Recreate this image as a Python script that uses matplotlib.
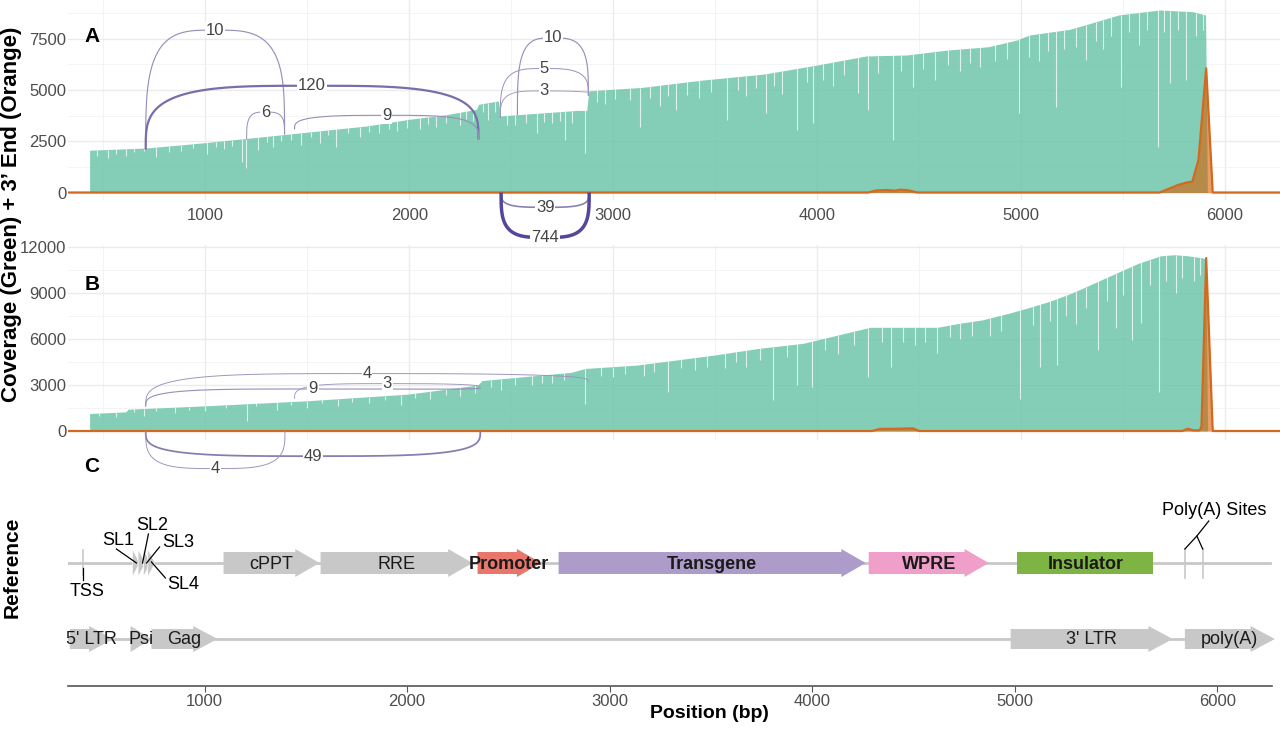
import numpy as np
import matplotlib
matplotlib.use('Agg')
import matplotlib.pyplot as plt
from matplotlib.patches import Polygon

plt.rcParams['font.family'] = ['Liberation Sans', 'DejaVu Sans']

# ---- panel A: coverage envelope (bp, depth) ----
covA_pos = [432, 712, 991, 1393, 1790, 1995, 2187, 2329, 2340, 2437, 2446, 2824, 2870, 2880, 3140,
            3440, 3740, 4000, 4240, 4440, 4640, 4840, 4980, 5040, 5240, 5340, 5480, 5680, 5840, 5905, 5914]
covA_val = [2060, 2170, 2420, 2830, 3240, 3560, 3800, 4050, 4300, 4460, 3730, 4000, 4000, 4950, 5120,
            5480, 5770, 6210, 6650, 6700, 6940, 7100, 7430, 7670, 7950, 8240, 8650, 8890, 8810, 8650, 0]
# dips in the coverage (bp, depth at bottom of dip)
dipA_pos = [520, 610, 760, 880, 1010, 1090, 1180, 1200, 1260, 1330, 1470, 1560, 1640, 1760, 1850, 1940,
            2050, 2130, 2250, 2310, 2388, 2520, 2628, 2700, 2765, 2863, 2960, 3130, 3230, 3310, 3420, 3560,
            3650, 3750, 3830, 3900, 3980, 4080, 4200, 4250, 4370, 4470, 4580, 4700, 4800, 4990, 5090, 5170,
            5320, 5400, 5490, 5580, 5670, 5730, 5810, 5860,
            470, 560, 650, 700, 820, 940, 1050, 1130, 1300, 1370, 1420, 1520, 1600, 1700, 1800, 1900,
            1990, 2090, 2180, 2280, 2360, 2420, 2480, 2570, 2660, 2740, 2800, 2920, 3010, 3080, 3180, 3270,
            3360, 3480, 3610, 3700, 3790, 3950, 4030, 4130, 4300, 4410, 4520, 4640, 4750, 4870, 4930, 5040,
            5130, 5210, 5270, 5370, 5440, 5530, 5620, 5700, 5770, 5890]
dipA_val = [1700, 1800, 1750, 2000, 1900, 2100, 1500, 1200, 2050, 2200, 2300, 2400, 2200, 2700, 2900, 3000,
            3100, 3200, 3300, 3500, 3540, 3300, 2890, 3400, 2560, 1915, 4300, 3200, 4200, 4020, 4600, 3530,
            4700, 3860, 4800, 3050, 3370, 5200, 4830, 4020, 2560, 5160, 5480, 5900, 6100, 3860, 6400, 4180,
            6460, 7000, 5160, 7200, 2230, 5320, 5480, 7600,
            1800, 1900, 1950, 2000, 1950, 2150, 2200, 2250, 2450, 2500, 2550, 2700, 2800, 2900, 2950, 3100,
            3150, 3350, 3400, 3600, 3900, 3900, 3300, 3400, 3450, 3500, 3400, 4400, 4550, 4500, 4600, 4700,
            4750, 4900, 5000, 5100, 5200, 5400, 5500, 5700, 5800, 5900, 6000, 6200, 6300, 6400, 6500, 6600,
            6900, 7000, 7100, 7400, 7600, 7800, 7900, 7800, 7900, 7900]
# 3' end signal (orange)
endA_pos = [326, 4250, 4290, 4340, 4380, 4410, 4450, 4490, 5680, 5770, 5810, 5840, 5870, 5908, 5940, 6270]
endA_val = [0, 0, 100, 120, 90, 140, 100, 0, 0, 365, 480, 530, 1580, 6050, 0, 0]
# splice junctions
arcA_start = [707, 707, 1202, 1437, 2530, 2446, 2446, 2450, 2450]
arcA_end = [1388, 2339, 1388, 2339, 2878, 2878, 2878, 2882, 2882]
arcA_y1 = [2090, 2090, 2580, 3070, 3770, 3640, 3640, 0, 0]
arcA_y2 = [2830, 2580, 2830, 2580, 4700, 4700, 4850, 0, 0]
arcA_top = [7910, 5200, 3920, 3760, 7530, 6040, 4950, -720, -2190]
arcA_count = [10, 120, 6, 9, 10, 5, 3, 39, 744]

# ---- panel B ----
covB_pos = [432, 610, 620, 996, 1496, 1996, 2336, 2356, 2795, 2862, 3117, 3493, 3713, 3932, 4150, 4260,
            4590, 4700, 4810, 4940, 5028, 5138, 5247, 5357, 5467, 5577, 5686, 5752, 5818, 5895, 5906, 5915]
covB_val = [1140, 1250, 1420, 1640, 1970, 2410, 3000, 3290, 3830, 4080, 4300, 4950, 5390, 5720, 6415, 6765,
            6765, 7030, 7250, 7680, 8010, 8450, 8990, 9640, 10300, 10950, 11430, 11500, 11430, 11280, 11200, 0]
dipB_pos = [560, 700, 850, 1000, 1205, 1350, 1500, 1650, 1800, 1960, 2100, 2250, 2450, 2600, 2700, 2862,
            3000, 3150, 3270, 3400, 3550, 3650, 3783, 3900, 3976, 4100, 4250, 4364, 4480, 4590, 4700, 4850,
            4995, 5094, 5178, 5270, 5379, 5467, 5544, 5588, 5675, 5760, 5850,
            480, 650, 760, 920, 1100, 1250, 1420, 1570, 1720, 1880, 2030, 2180, 2320, 2400, 2520, 2650,
            2760, 2940, 3060, 3200, 3330, 3460, 3600, 3720, 3850, 4040, 4180, 4320, 4420, 4530, 4650, 4760,
            4900, 5060, 5140, 5220, 5320, 5420, 5500, 5630, 5710, 5790, 5880]
dipB_val = [900, 1000, 1200, 1300, 650, 1400, 1500, 1600, 1800, 1700, 2100, 2300, 2700, 3000, 3100, 1790,
            3500, 3600, 2550, 4000, 4100, 4200, 2050, 2990, 2880, 5000, 3530, 4190, 5600, 5060, 6000, 6200,
            2120, 4190, 4300, 7000, 5280, 6700, 5940, 7030, 2550, 9000, 9800,
            1000, 1250, 1300, 1400, 1500, 1600, 1700, 1800, 1900, 2000, 2150, 2350, 2500, 2900, 3000, 3150,
            3300, 3600, 3700, 3850, 4100, 4200, 4500, 4600, 4800, 5300, 5600, 5800, 5800, 5800, 6100, 6200,
            6500, 6900, 7200, 7500, 8000, 8500, 8900, 9500, 9800, 10000, 10200]
endB_pos = [326, 4270, 4305, 4400, 4470, 4500, 5790, 5818, 5845, 5875, 5885, 5908, 5940, 6270]
endB_val = [0, 0, 130, 150, 170, 0, 0, 150, 40, 40, 300, 11280, 0, 0]
arcB_start = [707, 707, 1437, 707, 707]
arcB_end = [2878, 2348, 2348, 2348, 1390]
arcB_y1 = [1600, 1600, 2100, 0, 0]
arcB_y2 = [3180, 2800, 2800, 0, 0]
arcB_top = [3745, 2740, 3090, -1640, -2450]
arcB_count = [4, 9, 3, 49, 4]

# ---- panel C: reference annotation ----
feat_names = ['cPPT', 'RRE', 'Promoter', 'Transgene', 'WPRE', 'Insulator']
feat_start = [1094, 1573, 2348, 2748, 4279, 5013]
feat_end = [1568, 2323, 2662, 4264, 4872, 5684]
feat_color = ['#c8c8c8', '#c8c8c8', '#e8766b', '#ad9bca', '#ef9fc9', '#7db443']
feat_bold = [False, False, True, True, True, True]
feat_arrow = [True, True, True, True, True, False]

sl_names = ['SL1', 'SL2', 'SL3', 'SL4']
sl_start = [644, 672, 698, 720]
sl_end = [680, 708, 734, 756]

bb_names = ["5' LTR", 'Psi', 'Gag', "3' LTR", 'poly(A)']
bb_start = [335, 635, 738, 4980, 5840]
bb_end = [550, 738, 1064, 5780, 6284]

tss_pos = 398
polya_sites = [5840, 5928]

XLIM = (326, 6270)
W, H = 1280, 730
GREEN = '#66c2a5'
ORANGE = '#d2691e'
GRID = '#ebebeb'
TXT = '#4d4d4d'


def arc_xy(x1, x2, y1, y2, top, n=3.5):
    t = np.linspace(np.pi, 0, 300)
    c, s = np.cos(t), np.sin(t)
    u = np.sign(c) * np.abs(c) ** (2 / n)
    v = np.abs(s) ** (2 / n)
    base = y1 + (y2 - y1) * (u + 1) / 2
    return (x1 + x2) / 2 + (x2 - x1) / 2 * u, base + (top - base) * v


def draw_arcs(ax, starts, ends, y1s, y2s, tops, counts):
    light = np.array([0.62, 0.60, 0.75])
    dark = np.array([0.33, 0.28, 0.60])
    for x1, x2, a, b, top, cnt in zip(starts, ends, y1s, y2s, tops, counts):
        f = (np.log(cnt) / np.log(744)) ** 2
        xs, ys = arc_xy(x1, x2, a, b, top)
        ax.plot(xs, ys, color=light + (dark - light) * f, lw=0.6 + 1.9 * f,
                zorder=5, clip_on=False, solid_capstyle='butt')
        ax.text((x1 + x2) / 2, top, str(cnt), ha='center', va='center', fontsize=12,
                color='#444444', zorder=6,
                bbox=dict(boxstyle='square,pad=0.05', fc='white', ec='none'))


def coverage_panel(ax, cpos, cval, dpos, dval, epos, evals):
    ax.fill_between(cpos, 0, cval, color=GREEN, alpha=0.8, lw=0, zorder=2)
    env = np.interp(dpos, cpos, cval)
    ax.vlines(dpos, dval, env, color='white', lw=0.8, alpha=0.75, zorder=2.5)
    ax.fill_between(epos, 0, evals, color='#d95f02', alpha=0.6, lw=0, zorder=3)
    ax.plot(epos, evals, color=ORANGE, lw=1.6, zorder=4)
    ax.set_xlim(*XLIM)
    ax.set_xticks([1000, 2000, 3000, 4000, 5000, 6000])
    ax.set_xticks(np.arange(500, 6300, 1000), minor=True)
    ax.grid(which='major', color=GRID, lw=1.0)
    ax.grid(which='minor', color='#f2f2f2', lw=0.6)
    ax.set_axisbelow(True)
    for sp in ax.spines.values():
        sp.set_visible(False)
    ax.tick_params(which='both', length=0, labelsize=12, labelcolor=TXT)
    ax.tick_params(axis='y', pad=1)


fig = plt.figure(figsize=(W / 100, H / 100), dpi=100)


def box(x0, y0, x1, y1):
    return [x0 / W, 1 - y1 / H, (x1 - x0) / W, (y1 - y0) / H]


axA = fig.add_axes(box(68, 0, 1280, 200))
coverage_panel(axA, covA_pos, covA_val, dipA_pos, dipA_val, endA_pos, endA_val)
axA.set_ylim(-365, 9377)
axA.set_yticks([0, 2500, 5000, 7500])
axA.set_yticks([1250, 3750, 6250, 8750], minor=True)
axA.tick_params(axis='x', pad=6)
draw_arcs(axA, arcA_start, arcA_end, arcA_y1, arcA_y2, arcA_top, arcA_count)

axB = fig.add_axes(box(68, 245, 1280, 440))
coverage_panel(axB, covB_pos, covB_val, dipB_pos, dipB_val, endB_pos, endB_val)
axB.set_ylim(-587, 12133)
axB.set_yticks([0, 3000, 6000, 9000, 12000])
axB.set_yticks([1500, 4500, 7500, 10500], minor=True)
axB.tick_params(axis='x', labelbottom=False)
draw_arcs(axB, arcB_start, arcB_end, arcB_y1, arcB_y2, arcB_top, arcB_count)

# ---- panel C ----
axC = fig.add_axes(box(68, 480, 1272, 686))
axC.set_xlim(*XLIM)
axC.set_ylim(686, 480)
for sp in ['top', 'left', 'right']:
    axC.spines[sp].set_visible(False)
axC.spines['bottom'].set_color('#555555')
axC.spines['bottom'].set_linewidth(1.2)
axC.set_yticks([])
axC.set_xticks([1000, 2000, 3000, 4000, 5000, 6000])
axC.tick_params(axis='x', length=4, color='#555555', labelsize=12, labelcolor=TXT, pad=2)

R1, R2 = 563, 639
GREY = '#c8c8c8'


def gene_poly(x0, x1, yc, body, head, headlen=120, arrow=True):
    if not arrow:
        return [(x0, yc - body), (x1, yc - body), (x1, yc + body), (x0, yc + body)]
    hl = min(headlen, x1 - x0)
    xb = x1 - hl
    return [(x0, yc - body), (xb, yc - body), (xb, yc - head), (x1, yc),
            (xb, yc + head), (xb, yc + body), (x0, yc + body)]


axC.plot([XLIM[0], 6260], [R1, R1], color=GREY, lw=2, zorder=1)
axC.plot([XLIM[0], XLIM[1]], [R2, R2], color=GREY, lw=2, zorder=1)

for nm, s, e, col, bold, arr in zip(feat_names, feat_start, feat_end, feat_color, feat_bold, feat_arrow):
    axC.add_patch(Polygon(gene_poly(s, e, R1, 11, 14, arrow=arr), closed=True, fc=col, ec='none', zorder=2))
    axC.text((s + e) / 2, R1, nm, ha='center', va='center_baseline', fontsize=13,
             fontweight='bold' if bold else 'normal', color='#1a1a1a', zorder=3)

for s, e in zip(sl_start, sl_end):
    axC.add_patch(Polygon(gene_poly(s, e, R1, 11, 14), closed=True, fc=GREY, ec='white', lw=0.5, zorder=2))

for nm, s, e in zip(bb_names, bb_start, bb_end):
    axC.add_patch(Polygon(gene_poly(s, e, R2, 10, 13), closed=True, fc=GREY, ec='none', zorder=2,
                          clip_on=False))
    axC.text((s + e) / 2, R2 - 1, nm, ha='center', va='center_baseline', fontsize=13,
             color='#1a1a1a', zorder=3)

# TSS marker
axC.plot([tss_pos, tss_pos], [550, 575], color=GREY, lw=1.2, zorder=2)
axC.plot([tss_pos, tss_pos], [568, 580], color='black', lw=0.9, zorder=3)
axC.text(422, 592, 'TSS', ha='center', va='center', fontsize=13, color='black')

# stem-loop labels with leader lines
sl_lab_x = [575, 743, 872, 896]
sl_lab_y = [541, 526, 543, 585]
sl_lead = [((565, 549), (664, 563)), ((723, 534), (694, 563)),
           ((778, 547), (714, 563)), ((807, 578), (738, 562))]
for nm, lx, ly, (p0, p1) in zip(sl_names, sl_lab_x, sl_lab_y, sl_lead):
    axC.plot([p0[0], p1[0]], [p0[1], p1[1]], color='black', lw=0.9, zorder=3)
    axC.text(lx, ly, nm, ha='center', va='center', fontsize=13, color='black')

# poly(A) sites
for p in polya_sites:
    axC.plot([p, p], [549, 578], color=GREY, lw=1.2, zorder=2)
axC.plot([polya_sites[0], 5899, polya_sites[1]], [549, 536, 549], color='black', lw=0.9, zorder=3)
axC.plot([5899, 5958], [536, 521], color='black', lw=0.9, zorder=3)
axC.text(5983, 511, 'Poly(A) Sites', ha='center', va='center', fontsize=13, color='black')

# panel letters and titles
for lab, y in [('A', 37), ('B', 285), ('C', 467)]:
    fig.text(92 / W, 1 - y / H, lab, ha='center', va='center', fontsize=15, fontweight='bold')
fig.text(12 / W, 1 - 214 / H, 'Coverage (Green) + 3\u2019 End (Orange)', rotation=90,
         ha='center', va='center', fontsize=16, fontweight='bold')
fig.text(12 / W, 1 - 567 / H, 'Reference', rotation=90, ha='center', va='center',
         fontsize=15, fontweight='bold')
fig.text(709 / W, 1 - 714 / H, 'Position (bp)', ha='center', va='center', fontsize=14,
         fontweight='bold')

fig.savefig('out.png', dpi=100)
